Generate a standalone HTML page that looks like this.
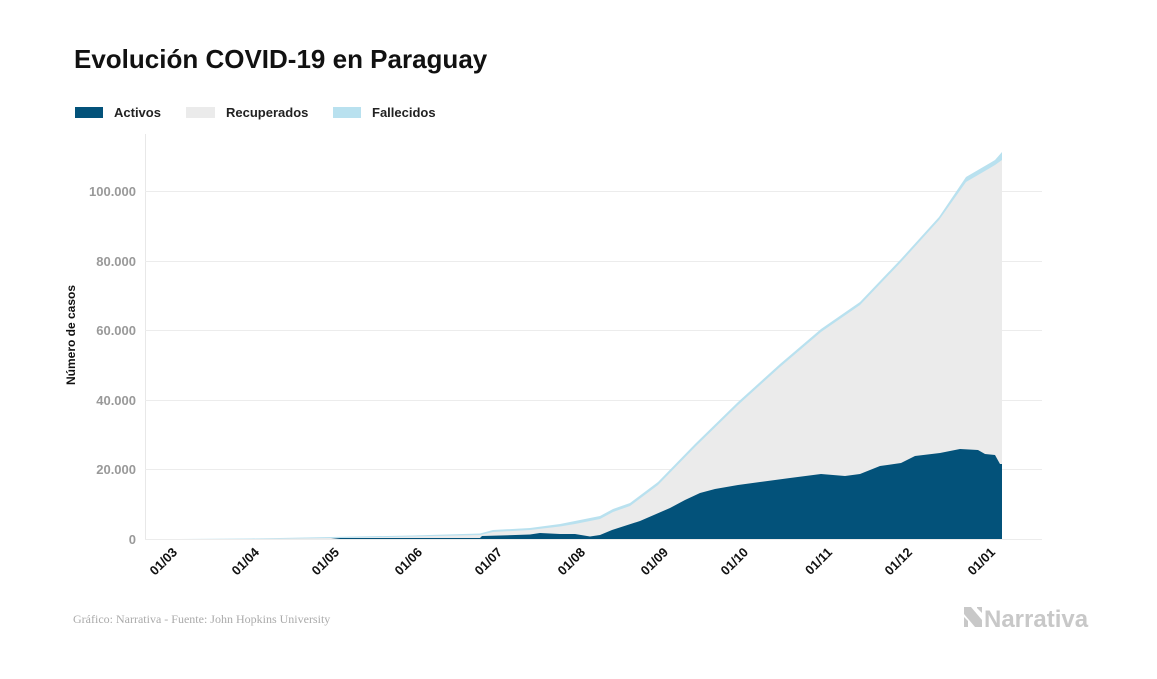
<!DOCTYPE html>
<html><head><meta charset="utf-8"><style>
body{margin:0;background:#fff;}
svg text{font-family:"Liberation Sans",sans-serif;}
</style></head><body>
<svg width="1157" height="674" viewBox="0 0 1157 674" xmlns="http://www.w3.org/2000/svg">
<rect width="1157" height="674" fill="#fff"/>
<text x="74" y="68" font-size="26" font-weight="bold" fill="#111">Evolución COVID-19 en Paraguay</text>
<rect x="75" y="107" width="28" height="11" fill="#03527a"/>
<text x="114" y="117" font-size="13" font-weight="bold" fill="#222">Activos</text>
<rect x="186" y="107" width="29" height="11" fill="#ebebeb"/>
<text x="226" y="117" font-size="13" font-weight="bold" fill="#222">Recuperados</text>
<rect x="333" y="107" width="28" height="11" fill="#b9e1ef"/>
<text x="372" y="117" font-size="13" font-weight="bold" fill="#222">Fallecidos</text>
<line x1="145.5" y1="134" x2="145.5" y2="539" stroke="#e8e8e8"/>
<g stroke="#ececec" stroke-width="1">
<line x1="145" y1="191.5" x2="1042" y2="191.5"/>
<line x1="145" y1="261.5" x2="1042" y2="261.5"/>
<line x1="145" y1="330.5" x2="1042" y2="330.5"/>
<line x1="145" y1="400.5" x2="1042" y2="400.5"/>
<line x1="145" y1="469.5" x2="1042" y2="469.5"/>
<line x1="145" y1="539.5" x2="1042" y2="539.5"/>
</g>
<g font-size="13" font-weight="bold" fill="#999" text-anchor="end">
<text x="136" y="196">100.000</text>
<text x="136" y="266">80.000</text>
<text x="136" y="335">60.000</text>
<text x="136" y="405">40.000</text>
<text x="136" y="474">20.000</text>
<text x="136" y="544">0</text>
</g>
<text transform="translate(75,335) rotate(-90)" font-size="12" font-weight="bold" fill="#111" text-anchor="middle">Número de casos</text>
<polygon fill="#b9e1ef" points="180,539 251,538.5 331,537 412,535.5 480,533.5 493,530 530,528 560,524 575,521 600,516 613,509 630,503 658,482 695,444 738,402 780,364 821,329 860,302 901,259 939,217 966,177 990,163 995,160 1002,152 1002,539"/>
<polygon fill="#ebebeb" points="180,539 251,539 331,538 412,536.5 480,535 493,532 530,530 560,526.5 575,524 600,519 613,512 630,506 658,485 695,447 738,405 780,367 821,332 860,305 901,262 939,220 966,182 990,168 995,165 1002,160 1002,539"/>
<polygon fill="#03527a" points="180,539 331,539 340,538 480,538 482,536 500,535.5 530,534.5 540,533 560,534 575,534 590,536.5 600,535 612,530 640,521 670,508 685,500 700,493 715,489 738,485 760,482 790,478 821,474 845,476 860,474 880,466 901,463 915,456 940,453 960,449 978,450 985,454 995,455 1000,464 1002,464 1002,539"/>
<g font-size="13" font-weight="bold" fill="#111" text-anchor="end">
<text transform="translate(178,553) rotate(-45)">01/03</text>
<text transform="translate(260,553) rotate(-45)">01/04</text>
<text transform="translate(340,553) rotate(-45)">01/05</text>
<text transform="translate(423,553) rotate(-45)">01/06</text>
<text transform="translate(503,553) rotate(-45)">01/07</text>
<text transform="translate(586,553) rotate(-45)">01/08</text>
<text transform="translate(669,553) rotate(-45)">01/09</text>
<text transform="translate(749,553) rotate(-45)">01/10</text>
<text transform="translate(833,553) rotate(-45)">01/11</text>
<text transform="translate(913,553) rotate(-45)">01/12</text>
<text transform="translate(996,553) rotate(-45)">01/01</text>
</g>
<text x="73" y="623" font-size="12" fill="#aaa" style="font-family:'Liberation Serif',serif">Gráfico: Narrativa - Fuente: John Hopkins University</text>
<g fill="#c8c8c8">
<polygon points="964,607 971,607 982,620 982,627 975,627 964,614"/>
<polygon points="964,617 968,621 968,627 964,627"/>
<polygon points="977,607 982,607 982,613 977,608"/>
</g>
<text x="984" y="627" font-size="24" font-weight="bold" fill="#c8c8c8">Narrativa</text>
</svg>
</body></html>
